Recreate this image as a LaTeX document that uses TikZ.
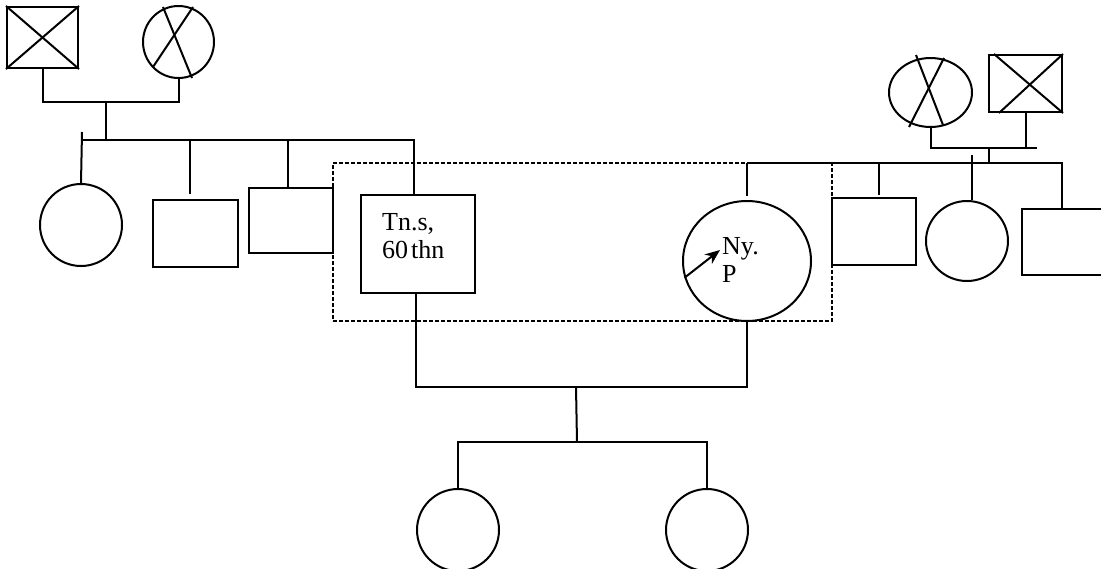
\documentclass[tikz,border=0pt]{standalone}
\usepackage{fontspec}
\setmainfont{Liberation Serif}
\usetikzlibrary{shapes.geometric,arrows.meta,calc}
\tikzset{
  base/.style={line width=2pt},
  sq/.style={base,draw,rectangle,inner sep=0pt},
  ov/.style={base,draw,ellipse,inner sep=0pt},
  conn/.style={base},
  focusbox/.style={draw,line width=1.5pt,dash pattern=on 4pt off 2pt,inner sep=0pt},
  lbl/.style={inner sep=0pt,align=left,font={\fontsize{26}{28}\selectfont}},
}
\begin{document}
\begin{tikzpicture}[x=1pt,y=-1pt]
\useasboundingbox (0,0) rectangle (1101,568);
\clip (0,0) rectangle (1101,568);
% left grandparents
\node[sq,minimum width=71pt,minimum height=61pt] (gf1) at (42.5,37.5) {};
\node[ov,minimum width=71pt,minimum height=72pt] (gm1) at (178.5,42) {};
\draw[conn] (gf1.north west) -- (gf1.south east);
\draw[conn] (gf1.north east) -- (gf1.south west);
\draw[conn] ($(gm1)+(-15.5,-35)$) -- ($(gm1)+(13.5,36)$);
\draw[conn] ($(gm1)+(14.5,-35)$) -- ($(gm1)+(-25.5,25)$);
% left siblings
\node[ov,minimum width=82pt,minimum height=82pt] (lc1) at (81,225) {};
\node[sq,minimum width=85pt,minimum height=67pt] (ls2) at (195.5,233.5) {};
\node[sq,minimum width=84pt,minimum height=65pt] (ls3) at (291,220.5) {};
\node[sq,minimum width=114pt,minimum height=98pt] (tns) at (418,244) {};
% right grandparents
\node[ov,minimum width=83pt,minimum height=69pt] (gm2) at (930.5,92.5) {};
\node[sq,minimum width=73pt,minimum height=57pt] (gf2) at (1025.5,83.5) {};
\draw[conn] ([xshift=6pt]gf2.north west) -- (gf2.south east);
\draw[conn] (gf2.north east) -- ([xshift=11pt]gf2.south west);
\draw[conn] ($(gm2)+(-14.5,-37.5)$) -- ($(gm2)+(12.5,32.5)$);
\draw[conn] ($(gm2)+(13.5,-34.5)$) -- ($(gm2)+(-21.5,34.5)$);
% right siblings
\node[ov,minimum width=128pt,minimum height=120pt] (nyp) at (747,261) {};
\node[sq,minimum width=84pt,minimum height=67pt] (rs1) at (874,231.5) {};
\node[ov,minimum width=82pt,minimum height=80pt] (rs2) at (967,241) {};
\node[sq,minimum width=80pt,minimum height=66pt] (rs3) at (1062,242) {};
% children
\node[ov,minimum width=82pt,minimum height=82pt] (c1) at (458,530) {};
\node[ov,minimum width=82pt,minimum height=82pt] (c2) at (707,530) {};
% focus box
\node[focusbox,minimum width=499pt,minimum height=158pt] (focus) at (582.5,242) {};
% labels
\node[lbl,anchor=base west] (tnslbl) at (382,258) {Tn.s,\\60\hspace{3pt}thn};
\node[lbl,anchor=base west] (nylbl) at (722,282) {Ny.\\P};
\coordinate (arrtip) at (720,250);
\draw[line width=2pt,-{Stealth[length=15pt,width=12pt]}] (nyp.195) -- (arrtip);
% left family connectors
\coordinate (m1) at (106,102);
\coordinate (s1) at (106,140);
\coordinate (t1) at (82,132);
\draw[conn] (gf1.south) |- (m1) -| (gm1.south);
\draw[conn] (m1) -- (s1);
\draw[conn] (t1) -- (lc1.north);
\draw[conn] (t1 |- s1) -| ([xshift=-4pt]tns.north);
\draw[conn] ([xshift=-5.5pt]ls2.north |- s1) -- ([xshift=-5.5pt,yshift=5pt]ls2.north);
\draw[conn] ([xshift=-3pt]ls3.north |- s1) -- ([xshift=-3pt]ls3.north);
% right family connectors
\coordinate (m2) at (989,148);
\coordinate (m2e) at (1037,148);
\coordinate (s2) at (989,163);
\coordinate (t2) at (972,155);
\draw[conn] (gm2.south) |- (m2e);
\draw[conn] (gf2.south) -- (gf2.south |- m2);
\draw[conn] (m2) -- (s2);
\draw[conn] (nyp.north |- s2) -| (rs3.north);
\draw[conn] (nyp.north |- s2) -- ([yshift=4pt]nyp.north);
\draw[conn] ([xshift=5pt]rs1.north |- s2) -- ([xshift=5pt,yshift=2pt]rs1.north);
\draw[conn] (t2) -- ([xshift=5pt]rs2.north);
% couple and children
\coordinate (cm) at (576,387);
\coordinate (cs) at (577,442);
\draw[conn] ([xshift=-2pt]tns.south) |- (cm) -| (nyp.south);
\draw[conn] (cm) -- (cs);
\draw[conn] (c1.north) |- (cs) -| (c2.north);
\end{tikzpicture}
\end{document}
